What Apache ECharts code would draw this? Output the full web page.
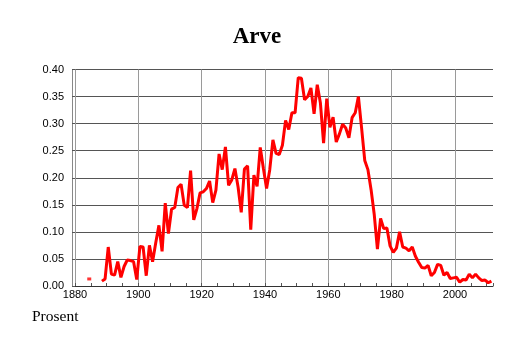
<!DOCTYPE html>
<html>
<head>
<meta charset="utf-8">
<script src="https://cdn.jsdelivr.net/npm/echarts@6/dist/echarts.min.js"></script>
<style>
html,body{margin:0;padding:0;background:#fff;}
#chart{width:514px;height:343px;}
</style>
</head>
<body>
<div id="chart"></div>
<script>
// ---- data ----
const titleText = 'Arve';
const yAxisTitle = 'Prosent';
const firstYear = 1884;
const values = [
  0.013, null, null, null, 0.009, 0.013,                              // 1884-1889
  0.072, 0.022, 0.020, 0.045, 0.016, 0.036, 0.048, 0.047, 0.045, 0.012, // 1890s
  0.073, 0.072, 0.019, 0.075, 0.045, 0.080, 0.112, 0.064, 0.153, 0.097, // 1900s
  0.142, 0.145, 0.182, 0.188, 0.149, 0.145, 0.213, 0.122, 0.143, 0.172, // 1910s
  0.174, 0.180, 0.194, 0.154, 0.177, 0.244, 0.215, 0.257, 0.186, 0.196, // 1920s
  0.217, 0.183, 0.136, 0.216, 0.222, 0.104, 0.205, 0.184, 0.256, 0.217, // 1930s
  0.180, 0.215, 0.270, 0.245, 0.243, 0.260, 0.306, 0.289, 0.320, 0.320, // 1940s
  0.385, 0.384, 0.344, 0.350, 0.366, 0.318, 0.372, 0.338, 0.264, 0.346, // 1950s
  0.293, 0.312, 0.266, 0.281, 0.299, 0.292, 0.274, 0.311, 0.320, 0.350, // 1960s
  0.292, 0.232, 0.215, 0.178, 0.132, 0.068, 0.125, 0.106, 0.107, 0.074, // 1970s
  0.062, 0.070, 0.100, 0.072, 0.070, 0.065, 0.072, 0.055, 0.044, 0.034, // 1980s
  0.033, 0.038, 0.019, 0.025, 0.040, 0.038, 0.020, 0.025, 0.014, 0.015, // 1990s
  0.016, 0.007, 0.012, 0.011, 0.022, 0.015, 0.022, 0.015, 0.010, 0.011, // 2000s
  0.006, 0.009                                                          // 2010-2011
];
const years = values.map((v, i) => firstYear + i);
const xMin = 1880, xMax = 2012, xStep = 20, xMinorStep = 5;
const yMin = 0, yMax = 0.4, yStep = 0.05;

// each yearly value is plotted at the middle of its year
const lineData = years.map((y, i) => [y + 0.5, values[i]]);
const isolated = lineData.filter((p, i) =>
  p[1] != null && (i === 0 || values[i - 1] == null) && (i === values.length - 1 || values[i + 1] == null));

const chart = echarts.init(document.getElementById('chart'), null, {renderer: 'canvas'});
chart.setOption({
  animation: false,
  backgroundColor: '#ffffff',
  title: {
    text: titleText,
    left: 'center',
    top: 21,
    textStyle: {fontFamily: 'Liberation Serif', fontWeight: 'bold', fontSize: 23, color: '#000'}
  },
  graphic: [{
    type: 'text', left: 32, top: 309,
    style: {text: yAxisTitle, fontFamily: 'Liberation Serif', fontSize: 15.5, fill: '#000'}
  }],
  grid: {left: 75, right: 21, top: 69.5, bottom: 57, containLabel: false},
  xAxis: [{
    type: 'value', min: xMin, max: xMax, interval: xStep,
    axisLine: {show: true, lineStyle: {color: '#333', width: 1}},
    axisTick: {show: false},
    axisLabel: {
      margin: 3, showMaxLabel: false, color: '#000',
      fontFamily: 'Liberation Sans', fontSize: 11,
      formatter: v => String(v)
    },
    splitLine: {show: true, showMaxLine: false, lineStyle: {color: '#9a9a9a', width: 1}}
  }, {
    type: 'value', min: xMin, max: xMax, interval: xMinorStep, position: 'bottom',
    axisLine: {show: false},
    axisTick: {show: true, inside: true, length: 3, lineStyle: {color: '#555'}},
    axisLabel: {show: false},
    splitLine: {show: false}
  }],
  yAxis: {
    type: 'value', min: yMin, max: yMax, interval: yStep, offset: 3,
    axisLine: {show: true, lineStyle: {color: '#888', width: 1}},
    axisTick: {show: true, inside: true, length: 3, lineStyle: {color: '#555'}},
    axisLabel: {
      margin: 8, color: '#000', fontFamily: 'Liberation Sans', fontSize: 11,
      formatter: v => v.toFixed(2)
    },
    splitLine: {show: true, lineStyle: {color: '#555', width: 1}}
  },
  series: [{
    type: 'line',
    xAxisIndex: 0,
    data: lineData,
    connectNulls: false,
    symbol: 'none',
    lineStyle: {color: '#ff0000', width: 3},
    itemStyle: {color: '#ff0000'},
    z: 3
  }, {
    type: 'scatter',
    xAxisIndex: 0,
    data: isolated,
    symbol: 'rect',
    symbolSize: [4, 3],
    itemStyle: {color: '#ff0000'},
    z: 3
  }]
});
</script>
</body>
</html>
